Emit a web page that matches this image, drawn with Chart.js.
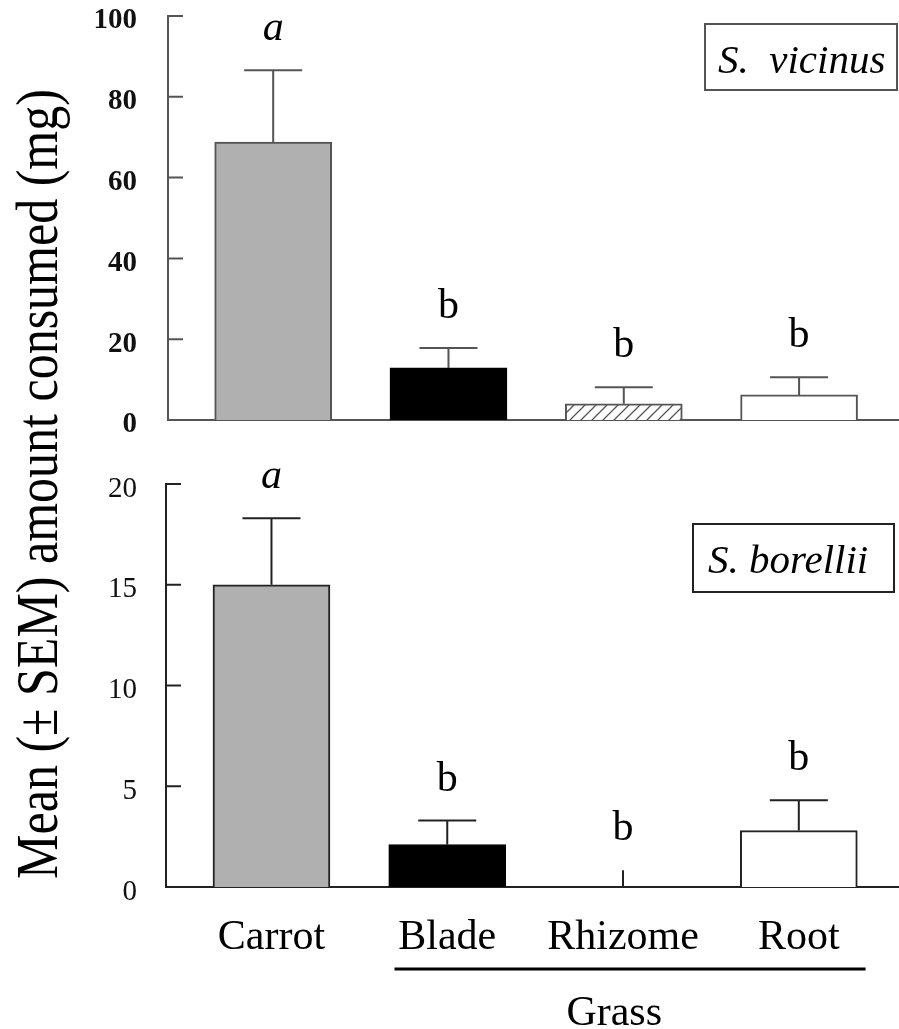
<!DOCTYPE html>
<html>
<head>
<meta charset="utf-8">
<script src="https://cdn.jsdelivr.net/npm/chart.js@4.4.1/dist/chart.umd.min.js"></script>
<style>
  html, body { margin: 0; padding: 0; background: #fff; }
  #wrap { position: relative; width: 899px; height: 1029px; }
  #wrap canvas { position: absolute; left: 0; }
</style>
</head>
<body>
<div id="wrap">
  <canvas id="topPanel" width="899" height="450" style="top:0"></canvas>
  <canvas id="bottomPanel" width="899" height="579" style="top:450px"></canvas>
  <canvas id="yTitle" width="899" height="1029" style="top:0"></canvas>
</div>
<script>
// food offered
const foods = ["Carrot", "Blade", "Rhizome", "Root"];

// S. vicinus, mg consumed
const vicinusMean = [68.8, 12.9, 4.0, 6.2];
const vicinusSem = [17.8, 4.9, 4.1, 4.4];
const vicinusLetters = ["a", "b", "b", "b"];
const vicinusTicks = [0, 20, 40, 60, 80, 100];

// S. borellii, mg consumed
const borelliiMean = [15.0, 2.1, 0, 2.8];
const borelliiSem = [3.3, 1.2, 0.83, 1.5];
const borelliiLetters = ["a", "b", "b", "b"];
const borelliiTicks = [0, 5, 10, 15, 20];

const SERIF = "'Liberation Serif', 'Times New Roman', serif";

function hatch(color) {
  const c = document.createElement("canvas");
  c.width = c.height = 11;
  const g = c.getContext("2d");
  g.fillStyle = "#fff";
  g.fillRect(0, 0, 11, 11);
  g.strokeStyle = color;
  g.lineWidth = 1.3;
  g.beginPath();
  g.moveTo(-1, 12); g.lineTo(12, -1);
  g.moveTo(-1, 1); g.lineTo(1, -1);
  g.moveTo(10, 12); g.lineTo(12, 10);
  g.stroke();
  return g.createPattern(c, "repeat");
}

// ticks inside the axis, error bars, letters, species box, grass bracket
const panelDecor = {
  id: "panelDecor",
  afterDatasetsDraw(chart, args, o) {
    const { ctx, chartArea } = chart;
    const y = chart.scales.y;
    const x = chart.scales.x;
    const meta = chart.getDatasetMeta(0);
    ctx.save();
    ctx.strokeStyle = o.color;
    ctx.lineWidth = 2;
    ctx.beginPath();
    y.ticks.forEach(t => {
      const py = y.getPixelForValue(t.value);
      ctx.moveTo(chartArea.left, py);
      ctx.lineTo(chartArea.left + 15, py);
    });
    ctx.stroke();

    o.sem.forEach((s, i) => {
      const bx = meta.data[i].x;
      const base = y.getPixelForValue(o.mean[i]);
      const top = y.getPixelForValue(o.mean[i] + s);
      ctx.beginPath();
      ctx.moveTo(bx, base);
      ctx.lineTo(bx, top);
      if (o.mean[i] > 0) {
        ctx.moveTo(bx - 29, top);
        ctx.lineTo(bx + 29, top);
      }
      ctx.stroke();
      const letter = o.letters[i];
      ctx.fillStyle = "#000";
      ctx.font = (letter === "a" ? "italic " : "") + "42px " + SERIF;
      ctx.textAlign = "center";
      ctx.textBaseline = "alphabetic";
      ctx.fillText(letter, bx, top - 30);
    });

    const b = o.box;
    ctx.fillStyle = "#fff";
    ctx.fillRect(b.x, b.y, b.w, b.h);
    ctx.strokeStyle = o.color;
    ctx.strokeRect(b.x, b.y, b.w, b.h);
    ctx.fillStyle = "#000";
    ctx.font = "italic 41px " + SERIF;
    ctx.textAlign = "left";
    ctx.fillText(o.species, b.x + b.pad, b.y + 49);

    if (o.group) {
      const x0 = x.getPixelForValue(0.7);
      const x1 = x.getPixelForValue(3.38);
      ctx.strokeStyle = "#000";
      ctx.lineWidth = 3;
      ctx.beginPath();
      ctx.moveTo(x0, 519);
      ctx.lineTo(x1, 519);
      ctx.stroke();
      ctx.font = "42px " + SERIF;
      ctx.textAlign = "center";
      ctx.fillText(o.group, x.getPixelForValue(1.95), 575);
    }
    ctx.restore();
  }
};

function panel(id, opt) {
  const fills = ["#b0b0b0", "#000000", hatch(opt.color), "#ffffff"];
  const edges = [opt.color, "#000000", opt.color, opt.color];
  return new Chart(document.getElementById(id), {
    type: "bar",
    data: {
      datasets: [{
        data: foods.map((f, i) => ({ x: i, y: opt.mean[i] })),
        backgroundColor: fills,
        borderColor: edges,
        borderWidth: 2,
        barThickness: 117
      }]
    },
    options: {
      responsive: false,
      animation: false,
      devicePixelRatio: 1,
      layout: { padding: { top: opt.padTop, left: 0, right: 0, bottom: 0 } },
      plugins: {
        legend: { display: false },
        tooltip: { enabled: false },
        panelDecor: {
          mean: opt.mean, sem: opt.sem, letters: opt.letters,
          color: opt.color, species: opt.species, box: opt.box, group: opt.group
        }
      },
      scales: {
        x: {
          type: "linear",
          offset: false,
          min: -0.6,
          max: 3.57,
          grid: { display: false, drawTicks: false },
          border: { display: true, color: opt.color, width: 2 },
          afterBuildTicks: s => { s.ticks = foods.map((f, i) => ({ value: i })); },
          ticks: {
            display: opt.showFoods,
            autoSkip: false,
            maxRotation: 0,
            padding: 26,
            color: "#000",
            font: { family: SERIF, size: 42 },
            callback: v => foods[v]
          },
          afterFit: s => {
            s.height = opt.xHeight;
            s.paddingLeft = 0;
            s.paddingRight = 0;
          }
        },
        y: {
          min: 0,
          max: opt.max,
          grid: { display: false, drawTicks: false },
          border: { display: true, color: opt.color, width: 2 },
          afterBuildTicks: s => { s.ticks = opt.ticks.map(v => ({ value: v })); },
          ticks: {
            padding: opt.axisX - 137,
            labelOffset: 5,
            color: "#111",
            font: { family: SERIF, size: 29, weight: opt.tickWeight, lineHeight: 1 }
          },
          afterFit: s => {
            s.width = opt.axisX;
            s.paddingTop = 0;
            s.paddingBottom = 0;
          }
        }
      }
    },
    plugins: [panelDecor]
  });
}

panel("topPanel", {
  mean: vicinusMean, sem: vicinusSem, letters: vicinusLetters, ticks: vicinusTicks,
  max: 100, color: "#555555", padTop: 16, xHeight: 30, axisX: 168,
  showFoods: false, tickWeight: "bold", species: "S.  vicinus",
  box: { x: 705, y: 24, w: 192, h: 66, pad: 13 }
});

panel("bottomPanel", {
  mean: borelliiMean, sem: borelliiSem, letters: borelliiLetters, ticks: borelliiTicks,
  max: 20, color: "#222222", padTop: 34, xHeight: 142, axisX: 166,
  showFoods: true, tickWeight: "normal", species: "S. borellii",
  box: { x: 693, y: 74, w: 201, h: 68, pad: 15 }, group: "Grass"
});

// shared y-axis title spanning both panels
const tctx = document.getElementById("yTitle").getContext("2d");
tctx.save();
tctx.translate(57, 484);
tctx.rotate(-Math.PI / 2);
tctx.scale(1, 1.2);
tctx.fillStyle = "#000";
tctx.font = "50px " + SERIF;
tctx.textAlign = "center";
tctx.textBaseline = "alphabetic";
tctx.fillText("Mean (\u00b1 SEM) amount consumed (mg)", 0, 0);
tctx.restore();
</script>
</body>
</html>
